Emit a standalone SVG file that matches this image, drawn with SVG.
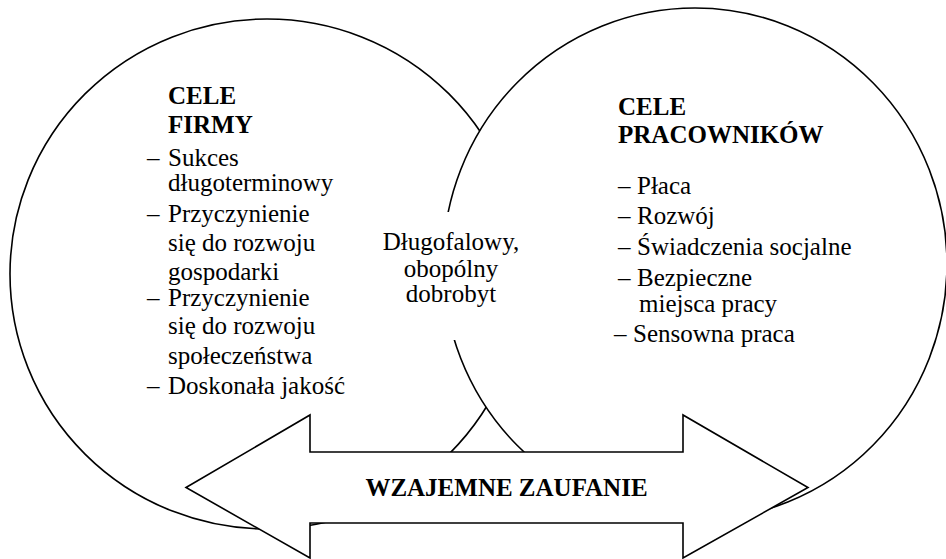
<svg xmlns="http://www.w3.org/2000/svg" width="946" height="559" viewBox="0 0 946 559">
<style>
.shape{fill:#fff;stroke:#000;stroke-width:1.6}
.t{font-family:"Liberation Serif","Times New Roman",serif;font-size:25px;fill:#000}
.b{font-weight:bold}
.mid{text-anchor:middle}
</style>
<rect width="946" height="559" fill="#fff"/>
<g id="cele-firmy">
<ellipse class="shape" cx="267" cy="274" rx="257" ry="255"/>
<text class="t b" x="168" y="104">CELE</text>
<text class="t b" x="168" y="133">FIRMY</text>
<text class="t"><tspan x="147" y="166">–</tspan><tspan x="168" y="166">Sukces</tspan></text>
<text class="t" x="168" y="191">długoterminowy</text>
<text class="t"><tspan x="147" y="222">–</tspan><tspan x="168" y="222">Przyczynienie</tspan></text>
<text class="t" x="168" y="251">się do rozwoju</text>
<text class="t" x="168" y="280">gospodarki</text>
<text class="t"><tspan x="147" y="306">–</tspan><tspan x="168" y="306">Przyczynienie</tspan></text>
<text class="t" x="168" y="334">się do rozwoju</text>
<text class="t" x="168" y="364">społeczeństwa</text>
<text class="t"><tspan x="147" y="394">–</tspan><tspan x="168" y="394">Doskonała jakość</tspan></text>
</g>
<g id="cele-pracownikow">
<ellipse class="shape" cx="695" cy="264" rx="252" ry="256"/>
<text class="t b" x="618" y="115">CELE</text>
<text class="t b" x="618" y="143">PRACOWNIKÓW</text>
<text class="t"><tspan x="618" y="194">–</tspan><tspan x="637" y="194">Płaca</tspan></text>
<text class="t"><tspan x="618" y="224">–</tspan><tspan x="637" y="224">Rozwój</tspan></text>
<text class="t"><tspan x="618" y="255">–</tspan><tspan x="637" y="255">Świadczenia socjalne</tspan></text>
<text class="t"><tspan x="618" y="286">–</tspan><tspan x="637" y="286">Bezpieczne</tspan></text>
<text class="t" x="639" y="312">miejsca pracy</text>
<text class="t"><tspan x="614" y="342">–</tspan><tspan x="633" y="342">Sensowna praca</tspan></text>
</g>
<g id="dobrobyt">
<rect x="378" y="212" width="146" height="128" fill="#fff"/>
<text class="t mid" x="451" y="250">Długofalowy,</text>
<text class="t mid" x="451" y="277">obopólny</text>
<text class="t mid" x="451" y="302">dobrobyt</text>
</g>
<g id="connectors"></g>
<g id="wzajemne-zaufanie">
<polygon class="shape" points="186,487.5 310,415 310,452 683,452 683,415 808,487.5 683,558 683,523 310,523 310,558"/>
<text class="t b mid" x="506.5" y="496">WZAJEMNE ZAUFANIE</text>
</g>
</svg>
